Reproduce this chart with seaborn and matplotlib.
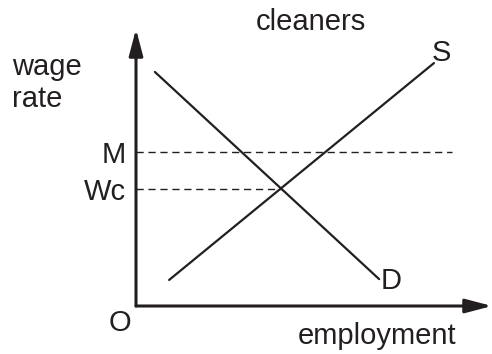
import matplotlib
matplotlib.use("Agg")
import matplotlib.pyplot as plt
import pandas as pd
import seaborn as sns

# curve end points (employment, wage rate) in arbitrary units
demand_x = [0.53, 6.83]
demand_y = [8.45, 0.97]
supply_x = [0.93, 8.37]
supply_y = [0.94, 8.77]

# wage levels: minimum wage M and competitive wage Wc
wage_levels = [4.24, 5.56]
wage_labels = ["Wc", "M"]
wage_line_ends = [4.07, 8.88]

sns.set_theme(style="white")
plt.rcParams["font.family"] = ["Liberation Sans", "DejaVu Sans"]

FS = 21
INK = "#231f20"
W, H = 492, 354
fig = plt.figure(figsize=(W / 100, H / 100), dpi=100)
ax = fig.add_axes([136 / W, 48 / H, 356 / W, 277 / H])
ax.set_xlim(0, 10)
ax.set_ylim(0, 10)

demand = pd.DataFrame({"employment": demand_x, "wage": demand_y})
supply = pd.DataFrame({"employment": supply_x, "wage": supply_y})
sns.lineplot(data=demand, x="employment", y="wage", color=INK, lw=1.6, ax=ax)
sns.lineplot(data=supply, x="employment", y="wage", color=INK, lw=1.6, ax=ax)

for level, end in zip(wage_levels, wage_line_ends):
    ax.plot([0, end], [level, level], color=INK, lw=1.0, dashes=(5.2, 3.4))

# axes drawn as arrows
for spine in ax.spines.values():
    spine.set_visible(False)
arrow = dict(arrowstyle="-|>,head_length=1.6,head_width=0.42", color=INK,
             lw=2.2, mutation_scale=10, shrinkA=0, shrinkB=0)
ax.annotate("", xy=(0, 1), xytext=(0, 0), xycoords="axes fraction",
            textcoords="axes fraction", arrowprops=arrow, annotation_clip=False)
ax.annotate("", xy=(1, 0), xytext=(0, 0), xycoords="axes fraction",
            textcoords="axes fraction", arrowprops=arrow, annotation_clip=False)

ax.set_xticks([])
ax.set_yticks(wage_levels, labels=wage_labels)
ax.tick_params(axis="y", length=0, pad=7, labelsize=FS, labelcolor=INK)
ax.set_xlabel("")
ax.set_ylabel("")

# curve labels
ax.text(supply_x[1] + 0.22, supply_y[1] + 0.35, "S", fontsize=FS, color=INK,
        ha="center", va="center")
ax.text(demand_x[1] + 0.35, demand_y[1] - 0.05, "D", fontsize=FS, color=INK,
        ha="center", va="center")

fig.text(12 / W, 1 - 107 / H, "wage\nrate", fontsize=FS, color=INK,
         ha="left", va="baseline", linespacing=1.2)
fig.text(311 / W, 1 - 30 / H, "cleaners", fontsize=FS, color=INK,
         ha="center", va="baseline")
fig.text(120 / W, 1 - 323 / H, "O", fontsize=FS, color=INK,
         ha="center", va="center")
fig.text(377 / W, 1 - 344 / H, "employment", fontsize=FS, color=INK,
         ha="center", va="baseline")

fig.savefig("out.png", dpi=100)
